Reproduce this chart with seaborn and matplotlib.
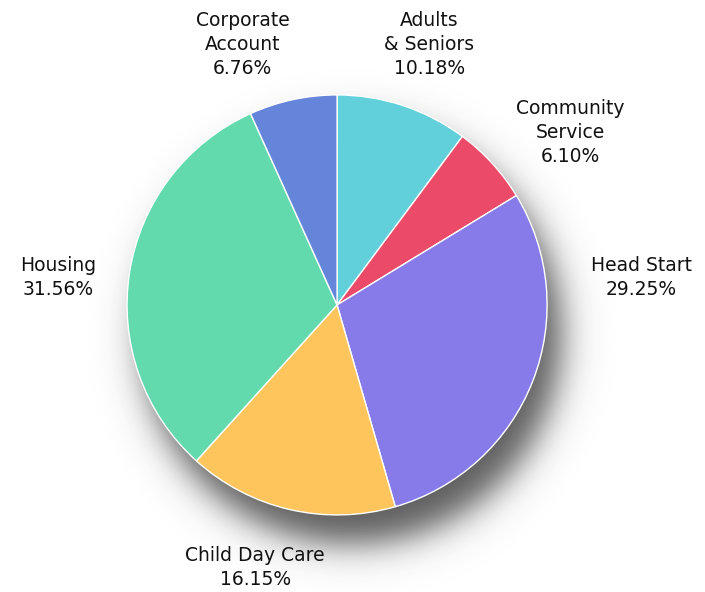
import numpy as np
import seaborn as sns
import matplotlib
matplotlib.use("Agg")
import matplotlib.pyplot as plt

# data, clockwise from 12 o'clock
labels = ["Adults\n& Seniors", "Community\nService", "Head Start",
          "Child Day Care", "Housing", "Corporate\nAccount"]
shares = [10.18, 6.10, 29.25, 16.15, 31.56, 6.76]
colors = ["#62D0DA", "#EB4A68", "#877BEA", "#FEC55C", "#62DAAD", "#6585DB"]

# label anchor points (pie radius = 1)
label_pos = [(0.44, 1.24), (1.11, 0.82), (1.45, 0.13),
             (-0.39, -1.25), (-1.33, 0.13), (-0.45, 1.24)]

sns.set_theme(style="white")
plt.rcParams["font.family"] = ["DejaVu Sans"]

fig = plt.figure(figsize=(7.05, 5.92), dpi=100)
ax = fig.add_axes([0, 0, 1, 1])
ext = (-1.605, 1.752, -1.367, 1.452)

# soft drop shadow under the pie
gx = np.linspace(ext[0], ext[1], 705)
gy = np.linspace(ext[2], ext[3], 592)
X, Y = np.meshgrid(gx, gy)
d = np.hypot(X - 0.07, Y + 0.14)
alpha = 0.78 / (1 + np.exp((d - 1.0) / 0.05))
shadow = np.zeros((592, 705, 4))
shadow[..., :3] = 0.18
shadow[..., 3] = alpha
ax.imshow(shadow, extent=ext, origin="lower", zorder=0, aspect="auto",
          interpolation="bilinear")

ax.pie(shares, colors=colors, startangle=90, counterclock=False, radius=1,
       center=(0, 0), frame=True,
       wedgeprops=dict(edgecolor="white", linewidth=1, zorder=2))
ax.set_xlim(ext[0], ext[1])
ax.set_ylim(ext[2], ext[3])
ax.set_aspect("auto")
ax.axis("off")

for lab, val, (lx, ly) in zip(labels, shares, label_pos):
    ax.text(lx, ly, f"{lab}\n{val:.2f}%", ha="center", va="center",
            fontsize=13.5, color="#111111", linespacing=1.35, zorder=3)

fig.savefig("out.png", dpi=100)
